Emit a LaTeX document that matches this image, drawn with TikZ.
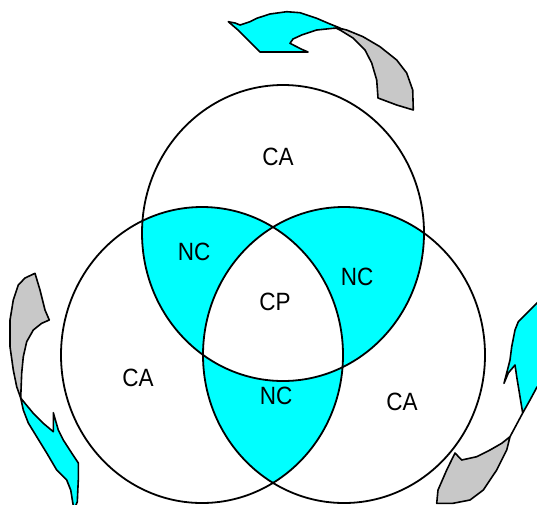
\documentclass[tikz,border=0pt]{standalone}
\usepackage{fontspec}
\setmainfont{Liberation Sans}
\definecolor{aqua}{RGB}{0,255,255}
\definecolor{lgray}{RGB}{200,200,200}
\begin{document}
\begin{tikzpicture}[x=1pt,y=-1pt,
  ring/.style={draw=black,line width=1.8pt},
  lbl/.style={font=\fontsize{25}{25}\selectfont,xscale=0.9,inner sep=0pt},
  headshape/.style={fill=aqua,draw=black,line width=1.6pt,line join=round},
  tailshape/.style={fill=lgray,draw=black,line width=1.6pt,line join=round}]
\useasboundingbox (0,0) rectangle (537,504);
\coordinate (T) at (283,233);
\coordinate (L) at (202,355);
\coordinate (R) at (344,355);
\def\rx{141}\def\ry{148}
% pairwise intersections cyan
\begin{scope}
  \clip (T) ellipse [x radius=\rx, y radius=\ry];
  \fill[aqua] (L) ellipse [x radius=\rx, y radius=\ry];
  \fill[aqua] (R) ellipse [x radius=\rx, y radius=\ry];
\end{scope}
\begin{scope}
  \clip (L) ellipse [x radius=\rx, y radius=\ry];
  \fill[aqua] (R) ellipse [x radius=\rx, y radius=\ry];
\end{scope}
\begin{scope}
  \clip (T) ellipse [x radius=\rx, y radius=\ry];
  \clip (L) ellipse [x radius=\rx, y radius=\ry];
  \fill[white] (R) ellipse [x radius=\rx, y radius=\ry];
\end{scope}
\draw[ring] (T) ellipse [x radius=\rx, y radius=\ry];
\draw[ring] (L) ellipse [x radius=\rx, y radius=\ry];
\draw[ring] (R) ellipse [x radius=\rx, y radius=\ry];
% labels
\node[lbl] (caT) at (278,157) {CA};
\node[lbl] (ncL) at (194,252) {NC};
\node[lbl] (ncR) at (357,277) {NC};
\node[lbl] (cp) at (275,302) {CP};
\node[lbl] (caL) at (138,378) {CA};
\node[lbl] (ncB) at (276,396) {NC};
\node[lbl] (caR) at (402,402) {CA};
% top arrow
\draw[tailshape] (333,26.7) -- (346.7,30) -- (363,36.7) -- (380,46.7) -- (396.7,60) -- (406.7,73) -- (412.7,90) -- (413.3,110)
  -- (396.7,105) -- (378,98) -- (376.7,80) -- (371.7,63) -- (365,50) -- (353,38) -- (340,30) -- cycle;
\draw[headshape] (228.3,21.7) -- (235,23) -- (240,25) -- (250,21.7) -- (256.7,18.3) -- (270,14) -- (286.7,11.7) -- (300,12.7)
  -- (316.7,18.3) -- (330,24) -- (340,28) -- (333,28.3) -- (316.7,30) -- (301.7,35) -- (293,39) -- (290,43.3) -- (301.7,49.3)
  -- (308,52) -- (260,52) -- (238,30) -- cycle;
% left arrow
\draw[tailshape] (35,273.3) -- (25,278) -- (18.3,285) -- (13.3,300) -- (10,320) -- (10,346.7) -- (13.3,370) -- (16.7,386.7) -- (20.7,398)
  -- (21.7,373) -- (23.3,356.7) -- (26.7,341.7) -- (33.3,330) -- (41.7,323.3) -- (49.3,320) -- (45,310) -- (40,290) -- cycle;
\draw[headshape] (20.7,398) -- (23.3,410) -- (28.3,423) -- (36.7,436.7) -- (46.7,453) -- (56.7,470) -- (66.7,480) -- (70.7,490) -- (74,510)
  -- (77.3,501.7) -- (78.3,480) -- (78.3,463) -- (71.7,453) -- (63.3,440) -- (58.3,430) -- (53.3,412.7) -- (53.3,431.7)
  -- (43.3,423.3) -- (33.3,413.3) -- (25,403.3) -- cycle;
% right arrow
\draw[headshape] (540,300) -- (536.7,303.3) -- (526.7,313.3) -- (518.3,321.7) -- (515,330) -- (511.7,346.7) -- (510,360) -- (508.3,366.7)
  -- (504,383.3) -- (508.3,373) -- (515,365) -- (516.7,376.7) -- (520,396.7) -- (522.7,413) -- (530,400) -- (537,387) -- (540,387) -- cycle;
\draw[line width=1.6pt] (522.7,413) -- (510,436.7);
\draw[tailshape] (510,436.7) -- (506.7,450) -- (496.7,470) -- (483.3,490) -- (470,500) -- (453,503.3) -- (436.7,503.3) -- (438,490)
  -- (446.7,470) -- (455,453) -- (461.7,460) -- (476.7,456.7) -- (490,450) -- (501.7,443.3) -- cycle;
\end{tikzpicture}
\end{document}
